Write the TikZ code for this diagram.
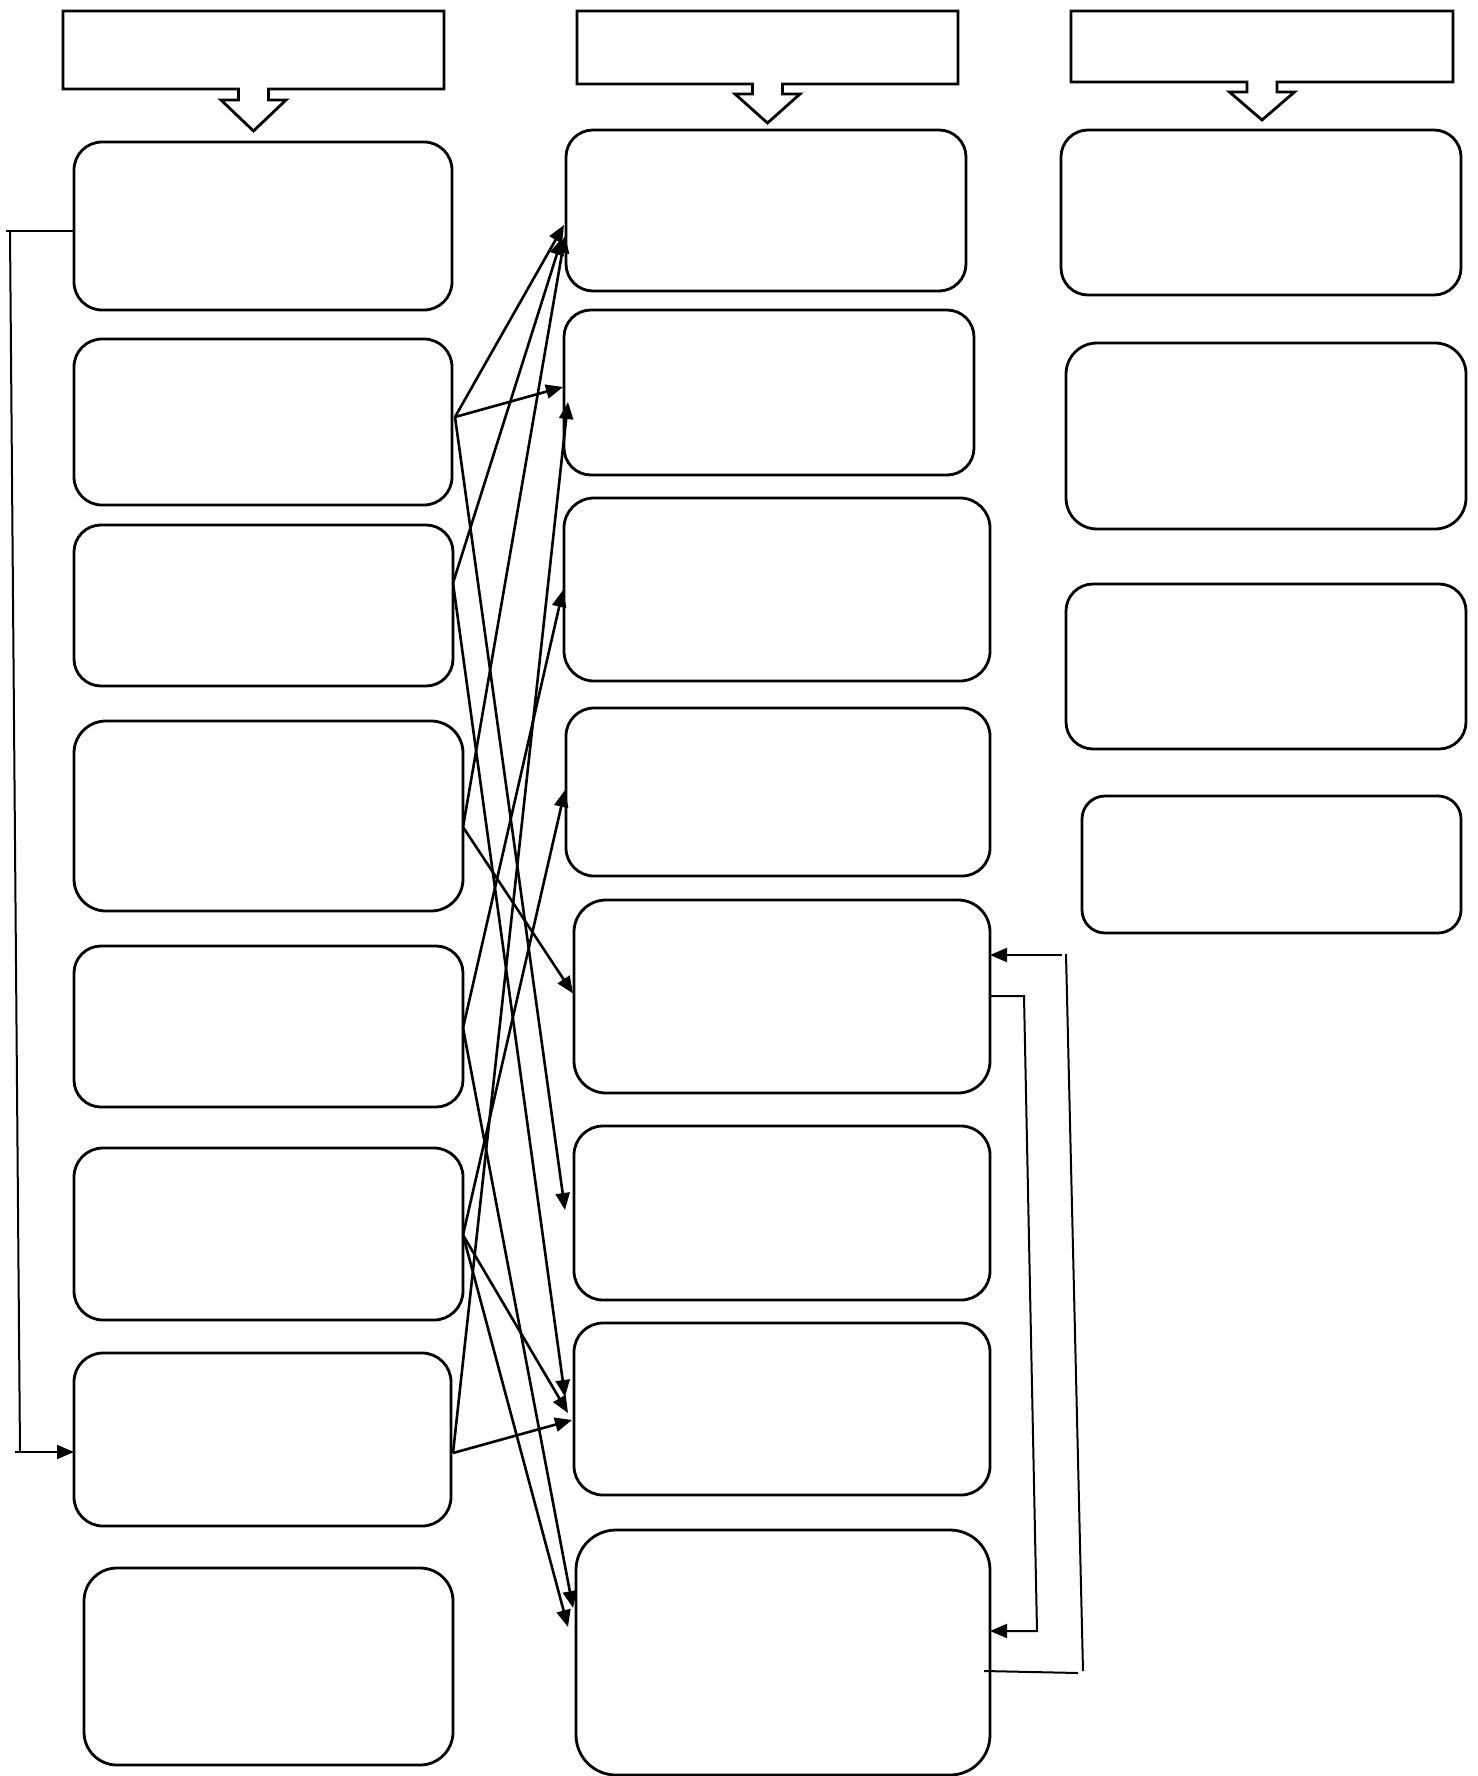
\documentclass[tikz,border=0pt]{standalone}
\usetikzlibrary{arrows.meta,fit}
\tikzset{
 rbox/.style={draw, line width=2.8pt, inner sep=0pt, outer sep=0pt, rectangle},
 conn/.style={line width=2.6pt, -{Triangle[length=17pt,width=14pt]}},
 thinln/.style={line width=2pt},
 thinarr/.style={line width=2pt, -{Triangle[length=17pt,width=14pt]}},
 hdr/.style={draw, line width=2.8pt, line join=miter},
}
\newcommand\mybx[6]{\node[rbox, rounded corners=#6pt, fit={(#2,#3) (#4,#5)}] (#1) {};}
\begin{document}
\begin{tikzpicture}[x=1pt,y=-1pt]
\useasboundingbox (0,0) rectangle (1477,1776);
% headers with arrows
\draw[hdr] (63,11) -- (444,11) -- (444,89) -- (268.5,89) -- (268.5,100) -- (286,100) -- (253.5,131) -- (221,100) -- (238.5,100) -- (238.5,89) -- (63,89) -- cycle;
\draw[hdr] (577,11) -- (958,11) -- (958,84) -- (782.5,84) -- (782.5,94) -- (800,94) -- (767.5,123) -- (735,94) -- (752.5,94) -- (752.5,84) -- (577,84) -- cycle;
\draw[hdr] (1071,11) -- (1453,11) -- (1453,82) -- (1277,82) -- (1277,92) -- (1294.5,92) -- (1262,120) -- (1229.5,92) -- (1247,92) -- (1247,82) -- (1071,82) -- cycle;
% left column
\mybx{L1}{74}{142}{452}{310}{28}
\mybx{L2}{74}{339}{452}{505}{28}
\mybx{L3}{74}{525}{453}{686}{27}
\mybx{L4}{74}{721}{463}{911}{32}
\mybx{L5}{74}{946}{463}{1107}{27}
\mybx{L6}{74}{1148}{463}{1320}{29}
\mybx{L7}{74}{1353}{451}{1526}{29}
\mybx{L8}{84}{1568}{453}{1765}{33}
% middle column
\mybx{M1}{566}{130}{966}{291}{27}
\mybx{M2}{564}{310}{974}{475}{27}
\mybx{M3}{564}{498}{990}{681}{30}
\mybx{M4}{566}{708}{990}{876}{28}
\mybx{M5}{574}{900}{990}{1093}{32}
\mybx{M6}{574}{1126}{990}{1300}{29}
\mybx{M7}{574}{1323}{990}{1495}{29}
\mybx{M8}{576}{1530}{990}{1775}{40}
% right column
\mybx{R1}{1061}{130}{1461}{295}{27}
\mybx{R2}{1066}{343}{1466}{529}{31}
\mybx{R3}{1066}{584}{1466}{749}{27}
\mybx{R4}{1082}{796}{1461}{933}{23}
% connectors left -> middle
\draw[conn] ([xshift=3,yshift=5]L2.east) -- ([xshift=-2,yshift=-14.5]M1.west);
\draw[conn] ([xshift=3,yshift=5]L2.east) -- ([xshift=-1,yshift=5.5]M2.west);
\draw[conn] ([xshift=3,yshift=5]L2.east) -- ([xshift=-9,yshift=3]M6.west);
\draw[conn] ([yshift=22.5]L3.east) -- ([xshift=-4,yshift=-27.5]M1.west);
\draw[conn] ([yshift=22.5]L3.east) -- ([xshift=-9,yshift=12]M7.west);
\draw[conn] ([yshift=-11]L4.east) -- ([xshift=-1,yshift=-25.5]M1.west);
\draw[conn] ([yshift=-11]L4.east) -- ([xshift=-1,yshift=3]M5.west);
\draw[conn] ([yshift=-1.5]L5.east) -- ([xshift=-1,yshift=-0.5]M3.west);
\draw[conn] ([yshift=-1.5]L5.east) -- ([xshift=-3,yshift=44.5]M8.west);
\draw[conn] ([yshift=-1]L6.east) -- ([xshift=-1,yshift=2]M4.west);
\draw[conn] ([yshift=-1]L6.east) -- ([xshift=-6,yshift=-4]M7.west);
\draw[conn] ([yshift=-1]L6.east) -- ([xshift=-8,yshift=25.5]M8.west);
\draw[conn] ([xshift=2,yshift=-13.5]L7.east) -- ([xshift=4,yshift=-9.5]M2.west);
\draw[conn] ([xshift=2,yshift=-13.5]L7.east) -- ([xshift=-2,yshift=-11]M7.west);
% left loop
\coordinate (c1) at (6,231);
\coordinate (c2) at (10,231);
\coordinate (c3) at (20,1452);
\coordinate (c4) at (15,1452);
\draw[thinln] ([yshift=-5]L1.west) -- (c1);
\draw[thinln] (c2) -- (c3);
\draw[thinarr] (c4) -- ([yshift=-12.5]L7.west);
% right loops
\coordinate (a1) at (1062,955);
\coordinate (a2) at (1066,954);
\coordinate (a3) at (1083,1671);
\coordinate (a4) at (1078,1673);
\coordinate (b1) at (1024,996);
\coordinate (b2) at (1037,1631);
\draw[thinarr] (a1) -- ([yshift=41.5]M5.east);
\draw[thinln] (a2) -- (a3);
\draw[thinln] (a4) -- ([xshift=-6,yshift=-18.5]M8.east);
\draw[thinarr] ([yshift=0.5]M5.east) -- (b1) -- (b2) -- ([yshift=21.5]M8.east);
\end{tikzpicture}
\end{document}
